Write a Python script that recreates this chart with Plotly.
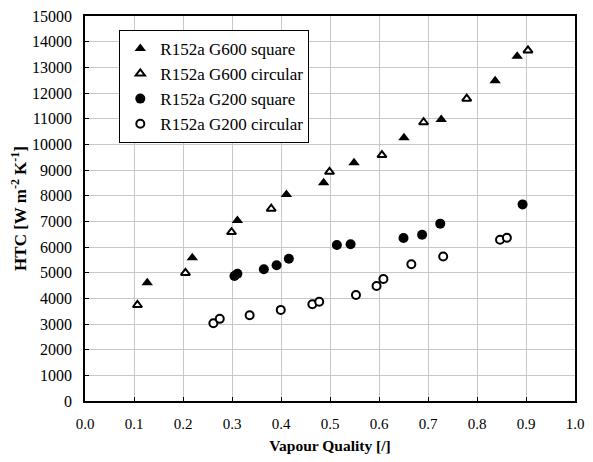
import plotly.graph_objects as go

# G600 square (filled triangles)
g600_sq_x = [0.127, 0.219, 0.311, 0.411, 0.487, 0.549, 0.651, 0.727, 0.837, 0.882]
g600_sq_y = [4610, 5580, 7030, 8050, 8500, 9280, 10260, 10970, 12480, 13430]
# G600 circular (open triangles)
g600_ci_x = [0.107, 0.205, 0.299, 0.380, 0.499, 0.606, 0.691, 0.779, 0.904]
g600_ci_y = [3740, 4990, 6580, 7490, 8930, 9580, 10860, 11780, 13660]
# G200 square (filled circles)
g200_sq_x = [0.305, 0.311, 0.365, 0.391, 0.416, 0.514, 0.542, 0.650, 0.688, 0.725, 0.893]
g200_sq_y = [4870, 4960, 5130, 5290, 5540, 6080, 6110, 6350, 6480, 6910, 7660]
# G200 circular (open circles)
g200_ci_x = [0.262, 0.275, 0.336, 0.3995, 0.464, 0.478, 0.553, 0.595, 0.609, 0.666, 0.731, 0.847, 0.861]
g200_ci_y = [3030, 3200, 3340, 3550, 3770, 3870, 4130, 4480, 4750, 5330, 5630, 6280, 6360]

names = ["R152a G600 square", "R152a G600 circular", "R152a G200 square", "R152a G200 circular"]
x_ticks = [i / 10 for i in range(11)]
y_ticks = list(range(0, 15001, 1000))

FONT = "'Times New Roman', 'Liberation Serif', 'DejaVu Serif', serif"

fig = go.Figure()
series = [
    (g600_sq_x, g600_sq_y, "triangle-up", "black", 10),
    (g600_ci_x, g600_ci_y, "triangle-up", "white", 8),
    (g200_sq_x, g200_sq_y, "circle", "black", 10),
    (g200_ci_x, g200_ci_y, "circle", "white", 8),
]
for (xs, ys, sym, col, sz), nm in zip(series, names):
    fig.add_trace(go.Scatter(
        x=xs, y=ys, mode="markers", name=nm,
        marker=dict(symbol=sym, color=col, size=sz,
                    line=dict(color="black", width=2 if col == "white" else 0)),
    ))

# page body has an 8px default margin, so the figure is sized/offset to compensate
fig.update_layout(
    width=577, height=446,
    margin=dict(l=77, r=10, t=8, b=53, autoexpand=False),
    paper_bgcolor="white", plot_bgcolor="white",
    font=dict(family=FONT, size=15, color="black"),
    showlegend=True,
    legend=dict(
        x=0.07, y=0.964, xanchor="left", yanchor="top",
        bgcolor="white", bordercolor="black", borderwidth=1,
        font=dict(family=FONT, size=17, color="black"),
        itemwidth=30, tracegroupgap=0,
    ),
    xaxis=dict(
        range=[0, 1.0], tickvals=x_ticks, ticktext=[f"{v:.1f}" for v in x_ticks],
        tickfont=dict(family=FONT, size=15, color="black"), automargin=False,
        ticklabeloverflow="allow",
        showgrid=True, gridcolor="#c8c8c8", gridwidth=1,
        showline=True, linecolor="black", linewidth=1.5, mirror=True,
        ticks="inside", ticklen=4, tickcolor="black",
        ticklabelstandoff=8, zeroline=False,
        title=dict(text="<b>Vapour Quality [/]</b>", font=dict(family=FONT, size=15.5), standoff=12),
    ),
    yaxis=dict(
        range=[0, 15000], tickvals=y_ticks, ticktext=[str(v) for v in y_ticks],
        tickfont=dict(family=FONT, size=16, color="black"), automargin=False,
        ticklabeloverflow="allow",
        showgrid=True, gridcolor="#c8c8c8", gridwidth=1,
        showline=True, linecolor="black", linewidth=1.5, mirror=True,
        ticks="inside", ticklen=4, tickcolor="black",
        ticklabelstandoff=8, zeroline=False,
        title=dict(text="<b>HTC [W m<sup>-2</sup> K<sup>-1</sup>]</b>", font=dict(family=FONT, size=17), standoff=7),
    ),
)

fig.write_html("out.html")
